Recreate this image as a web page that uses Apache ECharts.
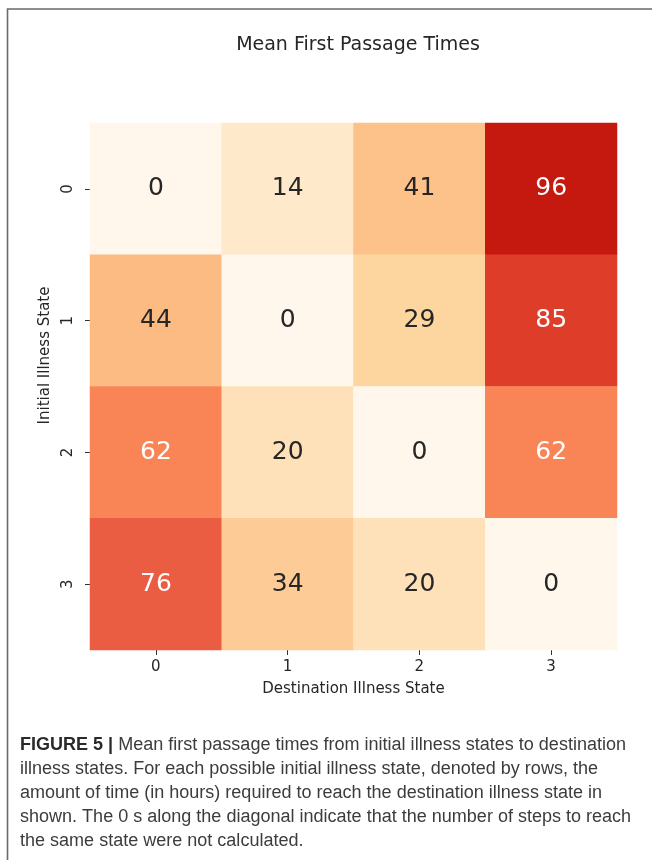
<!DOCTYPE html>
<html>
<head>
<meta charset="utf-8">
<script src="https://cdn.jsdelivr.net/npm/echarts@6/dist/echarts.min.js"></script>
<style>
  html, body { margin: 0; padding: 0; background: #fff; }
  #chart { width: 652px; height: 860px; }
</style>
</head>
<body>
<div id="chart"></div>
<script>
// Destination states (columns) and initial states (rows)
const destStates = ['0', '1', '2', '3'];
const initStates = ['0', '1', '2', '3'];

// Mean first passage times (hours), one array per initial state
const fromState0 = [0, 14, 41, 96];
const fromState1 = [44, 0, 29, 85];
const fromState2 = [62, 20, 0, 62];
const fromState3 = [76, 34, 20, 0];

const titleText = 'Mean First Passage Times';
const xAxisName = 'Destination Illness State';
const yAxisName = 'Initial Illness State';

const captionBold = 'FIGURE 5 |';
const captionLines = [
  ' Mean first passage times from initial illness states to destination',
  'illness states. For each possible initial illness state, denoted by rows, the',
  'amount of time (in hours) required to reach the destination illness state in',
  'shown. The 0 s along the diagonal indicate that the number of steps to reach',
  'the same state were not calculated.'
];

const rows = [fromState0, fromState1, fromState2, fromState3];

const cells = [];
rows.forEach(function (row, r) {
  row.forEach(function (v, c) {
    cells.push({
      value: [c, r, v],
      label: { color: v > 50 ? '#ffffff' : '#262626' }
    });
  });
});

// OrRd palette
const orRd = ['#fff7ec', '#fee8c8', '#fdd49e', '#fdbb84', '#fc8d59',
              '#ef6548', '#d7301f', '#b30000', '#7f0000'];

// caption layout: fit first line to its width with a horizontal scale
const capFont = 18;
const capFamily = '"Liberation Sans", Arial, sans-serif';
const mctx = document.createElement('canvas').getContext('2d');
mctx.font = 'bold ' + capFont + 'px ' + capFamily;
const wBold = mctx.measureText(captionBold).width;
mctx.font = capFont + 'px ' + capFamily;
const wRest = mctx.measureText(captionLines[0]).width;
const capScale = 606 / (wBold + wRest);

const captionGraphics = captionLines.map(function (line, i) {
  return {
    type: 'text',
    x: 20,
    y: 745 + i * 24,
    scaleX: capScale,
    style: {
      text: i === 0 ? '{b|' + captionBold + '}{n|' + line + '}' : '{n|' + line + '}',
      verticalAlign: 'middle',
      align: 'left',
      rich: {
        b: { fontFamily: capFamily, fontSize: capFont, fontWeight: 'bold', fill: '#2a2a2a' },
        n: { fontFamily: capFamily, fontSize: capFont, fill: '#3c3c3c' }
      }
    }
  };
});

const chart = echarts.init(document.getElementById('chart'), null, { renderer: 'canvas' });

chart.setOption({
  backgroundColor: '#ffffff',
  animation: false,
  title: {
    text: titleText,
    left: 353,
    textAlign: 'center',
    top: 31,
    textStyle: { fontFamily: 'DejaVu Sans', fontSize: 19, fontWeight: 'normal', color: '#262626' }
  },
  grid: { left: 90, top: 123, width: 527, height: 527 },
  xAxis: {
    type: 'category',
    data: destStates,
    name: xAxisName,
    nameLocation: 'middle',
    nameGap: 32,
    nameTextStyle: { fontFamily: 'DejaVu Sans', fontSize: 15, color: '#262626' },
    axisLine: { show: false },
    axisTick: { show: true, alignWithLabel: true, length: 5, lineStyle: { color: '#333' } },
    axisLabel: { fontFamily: 'DejaVu Sans', fontSize: 15, color: '#262626', margin: 10 },
    splitLine: { show: false }
  },
  yAxis: {
    type: 'category',
    data: initStates,
    inverse: true,
    name: yAxisName,
    nameLocation: 'middle',
    nameRotate: 90,
    nameGap: 33,
    nameTextStyle: { fontFamily: 'DejaVu Sans', fontSize: 15, color: '#262626', padding: [0, 0, 0, 62] },
    axisLine: { show: false },
    axisTick: { show: true, alignWithLabel: true, length: 5, lineStyle: { color: '#333' } },
    axisLabel: { fontFamily: 'DejaVu Sans', fontSize: 15, color: '#262626', rotate: 90, margin: 14 },
    splitLine: { show: false }
  },
  visualMap: {
    show: false,
    type: 'continuous',
    min: 0,
    max: 118,
    dimension: 2,
    inRange: { color: orRd }
  },
  series: [{
    type: 'heatmap',
    data: cells,
    label: {
      show: true,
      fontFamily: 'DejaVu Sans',
      fontSize: 25,
      formatter: function (p) { return String(p.value[2]); }
    },
    itemStyle: { borderWidth: 0 },
    emphasis: { disabled: true }
  }],
  graphic: [
    {
      type: 'polyline',
      shape: { points: [[7.5, 860], [7.5, 9], [652, 9]] },
      style: { stroke: '#6a6a6a', lineWidth: 1.6, fill: null }
    }
  ].concat(captionGraphics)
});
</script>
</body>
</html>
